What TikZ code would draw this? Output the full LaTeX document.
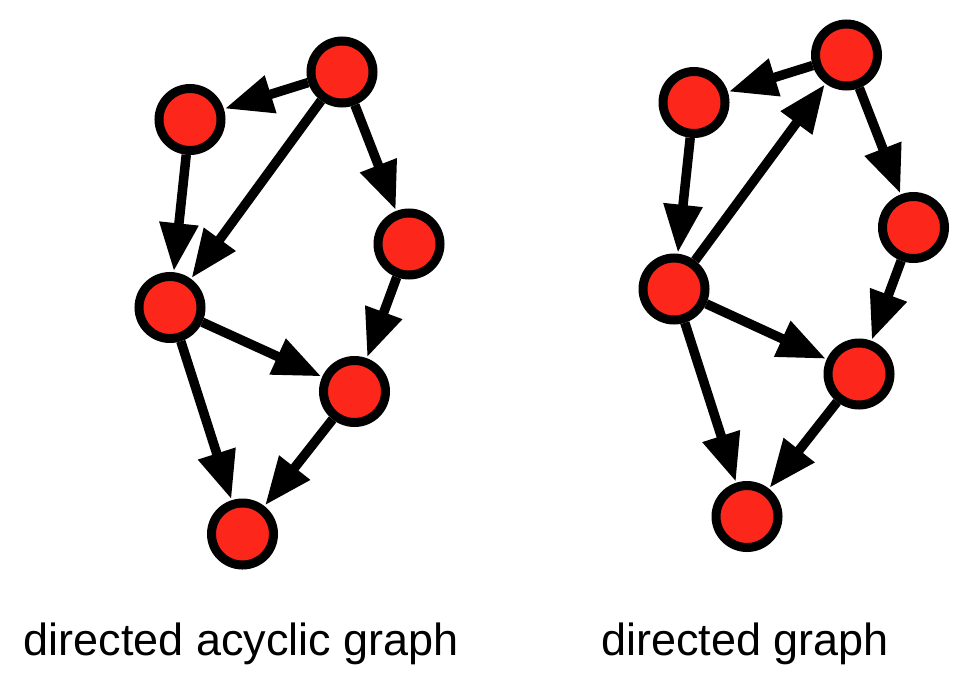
\documentclass[tikz,border=0pt]{standalone}
\usepackage{fontspec}
\setmainfont{Liberation Sans}
\usetikzlibrary{arrows.meta}
\definecolor{nodered}{RGB}{252,38,26}
\begin{document}
\begin{tikzpicture}[x=1pt,y=-1pt,
  vtx/.style={circle,draw=black,fill=nodered,line width=9pt,minimum size=62pt,inner sep=0pt},
  arc/.style={line width=9.5pt,-{Triangle[length=48pt,width=37pt]},shorten >=1pt},
  captext/.style={font=\fontsize{45}{54}\selectfont,anchor=base}]
\useasboundingbox (0,0) rectangle (979,680);
% left: directed acyclic graph
\node[vtx] (la) at (342,72) {};
\node[vtx] (lb) at (190,119.5) {};
\node[vtx] (lc) at (409,244) {};
\node[vtx] (ld) at (170,307.5) {};
\node[vtx] (le) at (354.5,391.5) {};
\node[vtx] (lf) at (242.5,534) {};
\draw[arc] (la) -- (lb);
\draw[arc] (la) -- (ld);
\draw[arc] (la) -- (lc);
\draw[arc] (lb) -- (ld);
\draw[arc] (lc) -- (le);
\draw[arc] (ld) -- (le);
\draw[arc] (ld) -- (lf);
\draw[arc] (le) -- (lf);
% right: directed graph
\node[vtx] (ra) at (846.5,55) {};
\node[vtx] (rb) at (694,102.5) {};
\node[vtx] (rc) at (913.5,227.5) {};
\node[vtx] (rd) at (674,289) {};
\node[vtx] (re) at (859,374) {};
\node[vtx] (rf) at (747,516.5) {};
\draw[arc] (ra) -- (rb);
\draw[arc] (rd) -- (ra);
\draw[arc] (ra) -- (rc);
\draw[arc] (rb) -- (rd);
\draw[arc] (rc) -- (re);
\draw[arc] (rd) -- (re);
\draw[arc] (rd) -- (rf);
\draw[arc] (re) -- (rf);
% captions
\node[captext] (lcap) at (241.5,655) {directed acyclic graph};
\node[captext] (rcap) at (745,655) {directed graph};
\end{tikzpicture}
\end{document}
